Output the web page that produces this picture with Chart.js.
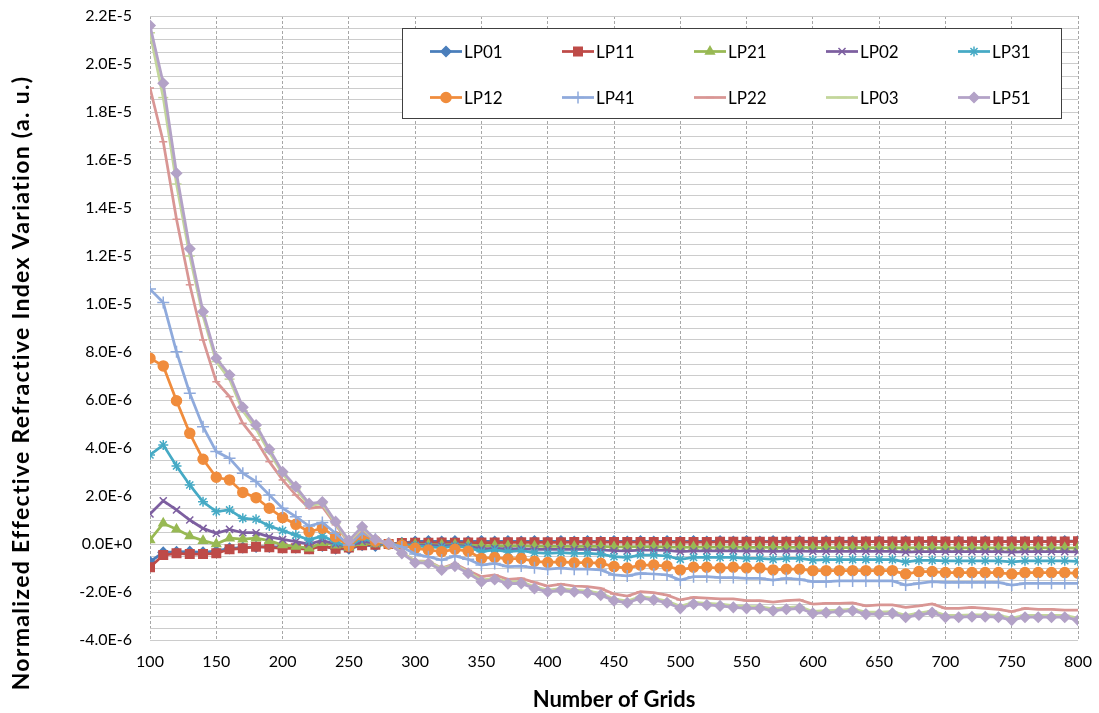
<!DOCTYPE html>
<html>
<head>
<meta charset="utf-8">
<title>Normalized Effective Refractive Index Variation</title>
<script src="https://cdn.jsdelivr.net/npm/chart.js@4.4.0/dist/chart.umd.min.js"></script>
<style>
  html, body { margin: 0; padding: 0; background: #fff; }
  #wrap { width: 1099px; height: 713px; }
</style>
</head>
<body>
<div id="wrap"><canvas id="chart" width="1099" height="713"></canvas></div>
<script>
// grid counts on the x axis
const grids = [100, 110, 120, 130, 140, 150, 160, 170, 180, 190,
  200, 210, 220, 230, 240, 250, 260, 270, 280, 290,
  300, 310, 320, 330, 340, 350, 360, 370, 380, 390,
  400, 410, 420, 430, 440, 450, 460, 470, 480, 490,
  500, 510, 520, 530, 540, 550, 560, 570, 580, 590,
  600, 610, 620, 630, 640, 650, 660, 670, 680, 690,
  700, 710, 720, 730, 740, 750, 760, 770, 780, 790, 800];

// all values below are in units of 1e-6
const lp01 = [-0.74, -0.35, -0.33, -0.32, -0.35, -0.30, -0.18, -0.15, -0.12, -0.12,
  -0.12, -0.15, -0.18, -0.08, -0.20, -0.20, -0.05, -0.08, 0.00, 0.05,
  0.10, 0.12, 0.10, 0.12, 0.10, 0.12, 0.10, 0.12, 0.10, 0.12,
  0.10, 0.12, 0.10, 0.12, 0.10, 0.12, 0.10, 0.12, 0.10, 0.12,
  0.10, 0.12, 0.10, 0.12, 0.10, 0.12, 0.10, 0.12, 0.10, 0.12,
  0.10, 0.12, 0.10, 0.12, 0.10, 0.12, 0.10, 0.12, 0.10, 0.12,
  0.10, 0.12, 0.10, 0.12, 0.10, 0.12, 0.10, 0.12, 0.10, 0.12, 0.12];
const lp11 = [-0.97, -0.46, -0.39, -0.42, -0.42, -0.39, -0.22, -0.18, -0.11, -0.14,
  -0.18, -0.18, -0.22, -0.08, -0.20, -0.15, -0.05, -0.03, 0.00, 0.04,
  0.05, 0.05, 0.06, 0.05, 0.06, 0.06, 0.06, 0.07, 0.07, 0.07,
  0.07, 0.07, 0.08, 0.08, 0.08, 0.08, 0.08, 0.08, 0.08, 0.08,
  0.08, 0.08, 0.08, 0.09, 0.09, 0.09, 0.09, 0.09, 0.09, 0.09,
  0.09, 0.09, 0.09, 0.09, 0.10, 0.10, 0.10, 0.10, 0.10, 0.12,
  0.10, 0.10, 0.10, 0.10, 0.10, 0.10, 0.10, 0.10, 0.10, 0.10, 0.11];
const lp21 = [0.17, 0.86, 0.61, 0.33, 0.14, 0.00, 0.24, 0.20, 0.24, 0.14,
  -0.04, -0.10, -0.18, 0.05, -0.05, -0.15, 0.05, 0.00, 0.00, 0.00,
  -0.02, -0.03, -0.04, -0.03, -0.04, -0.08, -0.07, -0.08, -0.08, -0.09,
  -0.10, -0.10, -0.10, -0.10, -0.10, -0.12, -0.12, -0.11, -0.11, -0.12,
  -0.14, -0.13, -0.13, -0.13, -0.13, -0.14, -0.14, -0.14, -0.14, -0.14,
  -0.15, -0.15, -0.15, -0.15, -0.15, -0.15, -0.15, -0.16, -0.15, -0.15,
  -0.16, -0.16, -0.16, -0.16, -0.16, -0.17, -0.16, -0.16, -0.16, -0.16, -0.17];
const lp02 = [1.25, 1.80, 1.42, 1.00, 0.65, 0.45, 0.61, 0.47, 0.47, 0.30,
  0.19, 0.10, 0.00, 0.15, 0.00, -0.12, 0.12, 0.03, 0.00, 0.00,
  -0.04, -0.06, -0.08, -0.06, -0.09, -0.20, -0.18, -0.20, -0.20, -0.22,
  -0.22, -0.22, -0.22, -0.22, -0.24, -0.28, -0.29, -0.26, -0.26, -0.27,
  -0.32, -0.29, -0.29, -0.29, -0.29, -0.30, -0.30, -0.31, -0.30, -0.30,
  -0.31, -0.31, -0.31, -0.31, -0.31, -0.31, -0.31, -0.34, -0.32, -0.32,
  -0.32, -0.32, -0.32, -0.32, -0.32, -0.34, -0.32, -0.32, -0.32, -0.32, -0.33];
const lp31 = [3.71, 4.13, 3.25, 2.46, 1.76, 1.35, 1.42, 1.07, 1.03, 0.75,
  0.56, 0.37, 0.17, 0.33, 0.08, -0.12, 0.25, 0.06, 0.00, -0.03,
  -0.08, -0.12, -0.15, -0.10, -0.14, -0.32, -0.25, -0.32, -0.28, -0.36,
  -0.39, -0.36, -0.39, -0.39, -0.42, -0.53, -0.56, -0.46, -0.46, -0.50,
  -0.64, -0.56, -0.56, -0.56, -0.56, -0.60, -0.60, -0.64, -0.60, -0.60,
  -0.67, -0.65, -0.65, -0.65, -0.65, -0.65, -0.65, -0.74, -0.68, -0.68,
  -0.70, -0.70, -0.70, -0.70, -0.70, -0.74, -0.70, -0.70, -0.70, -0.70, -0.72];
const lp12 = [7.74, 7.42, 5.97, 4.61, 3.53, 2.78, 2.67, 2.15, 1.93, 1.49,
  1.10, 0.82, 0.51, 0.66, 0.30, -0.08, 0.37, 0.12, 0.00, -0.06,
  -0.18, -0.25, -0.32, -0.22, -0.30, -0.60, -0.56, -0.62, -0.60, -0.72,
  -0.77, -0.74, -0.78, -0.78, -0.80, -0.94, -1.00, -0.88, -0.88, -0.92,
  -1.08, -0.97, -0.97, -1.00, -0.97, -1.00, -1.00, -1.08, -1.05, -1.05,
  -1.11, -1.11, -1.11, -1.11, -1.11, -1.11, -1.11, -1.25, -1.15, -1.15,
  -1.19, -1.19, -1.19, -1.19, -1.19, -1.25, -1.19, -1.19, -1.19, -1.19, -1.22];
const lp41 = [10.62, 10.06, 8.01, 6.28, 4.89, 3.85, 3.57, 2.95, 2.60, 2.04,
  1.49, 1.14, 0.75, 0.90, 0.45, -0.04, 0.47, 0.20, 0.03, -0.12,
  -0.42, -0.53, -0.67, -0.50, -0.64, -0.88, -0.81, -0.94, -0.92, -0.99,
  -1.05, -1.01, -1.05, -1.05, -1.08, -1.29, -1.33, -1.22, -1.25, -1.29,
  -1.50, -1.36, -1.36, -1.40, -1.40, -1.43, -1.43, -1.50, -1.43, -1.47,
  -1.57, -1.57, -1.54, -1.54, -1.54, -1.54, -1.54, -1.71, -1.64, -1.57,
  -1.60, -1.60, -1.60, -1.60, -1.60, -1.71, -1.64, -1.64, -1.64, -1.64, -1.64];
const lp22 = [19.00, 16.76, 13.53, 10.80, 8.50, 6.76, 6.14, 5.03, 4.33, 3.43,
  2.67, 2.04, 1.49, 1.55, 0.80, 0.05, 0.60, 0.15, 0.00, -0.35,
  -0.70, -0.72, -1.00, -0.82, -1.10, -1.36, -1.29, -1.47, -1.43, -1.60,
  -1.75, -1.67, -1.75, -1.78, -1.85, -2.08, -2.17, -1.99, -2.03, -2.13,
  -2.33, -2.22, -2.26, -2.29, -2.29, -2.36, -2.36, -2.42, -2.36, -2.33,
  -2.50, -2.47, -2.47, -2.45, -2.58, -2.54, -2.54, -2.64, -2.58, -2.50,
  -2.68, -2.68, -2.64, -2.68, -2.72, -2.82, -2.68, -2.72, -2.72, -2.75, -2.75];
const lp03 = [21.30, 18.60, 15.00, 12.00, 9.50, 7.60, 6.87, 5.55, 4.80, 3.82,
  2.92, 2.30, 1.60, 1.68, 0.86, 0.10, 0.66, 0.17, 0.02, -0.35,
  -0.72, -0.74, -1.02, -0.86, -1.16, -1.50, -1.42, -1.58, -1.57, -1.78,
  -1.92, -1.86, -1.92, -1.96, -2.06, -2.29, -2.38, -2.19, -2.26, -2.38,
  -2.60, -2.43, -2.47, -2.51, -2.57, -2.61, -2.61, -2.70, -2.65, -2.61,
  -2.81, -2.78, -2.75, -2.71, -2.84, -2.84, -2.82, -2.97, -2.88, -2.79,
  -2.97, -2.97, -2.95, -2.95, -2.97, -3.09, -2.97, -2.97, -2.97, -2.97, -3.09];
const lp51 = [21.60, 19.20, 15.45, 12.30, 9.68, 7.74, 7.04, 5.70, 4.96, 3.95,
  3.01, 2.39, 1.68, 1.75, 0.93, 0.15, 0.72, 0.20, 0.03, -0.39,
  -0.78, -0.80, -1.08, -0.92, -1.22, -1.57, -1.48, -1.65, -1.64, -1.85,
  -1.99, -1.92, -1.99, -2.03, -2.13, -2.36, -2.45, -2.26, -2.33, -2.45,
  -2.68, -2.50, -2.54, -2.58, -2.64, -2.68, -2.68, -2.78, -2.72, -2.68,
  -2.89, -2.86, -2.82, -2.78, -2.92, -2.92, -2.89, -3.05, -2.96, -2.86,
  -3.05, -3.05, -3.03, -3.03, -3.05, -3.17, -3.05, -3.05, -3.05, -3.05, -3.17];

const seriesNames = ['LP01', 'LP11', 'LP21', 'LP02', 'LP31', 'LP12', 'LP41', 'LP22', 'LP03', 'LP51'];
const seriesValues = [lp01, lp11, lp21, lp02, lp31, lp12, lp41, lp22, lp03, lp51];

// line colour, marker shape and marker size for each mode
const styles = [
  { color: '#4A7EBB', marker: 'rectRot', size: 5 },
  { color: '#BE4B48', marker: 'rect', size: 6 },
  { color: '#98B954', marker: 'triangle', size: 5 },
  { color: '#7D5FA0', marker: 'crossRot', size: 5 },
  { color: '#46AAC5', marker: 'star', size: 5 },
  { color: '#F08C3C', marker: 'circle', size: 5 },
  { color: '#8FAADC', marker: 'cross', size: 6 },
  { color: '#D99694', marker: 'line', size: 4 },
  { color: '#C3D69B', marker: 'line', size: 5 },
  { color: '#B3A2C7', marker: 'rectRot', size: 5 }
];

const FONT = 'Lato, "Liberation Sans", sans-serif';
const expLabel = v => (v * 1e-6).toExponential(1).toUpperCase();

const datasets = seriesNames.map((name, i) => ({
  label: name,
  data: grids.map((g, k) => ({ x: g, y: seriesValues[i][k] })),
  borderColor: styles[i].color,
  backgroundColor: styles[i].color,
  borderWidth: 2.75,
  pointStyle: styles[i].marker,
  pointRadius: styles[i].size,
  pointBorderWidth: 1.5,
  pointBorderColor: styles[i].color,
  pointBackgroundColor: styles[i].color,
  tension: 0,
  order: seriesNames.length - 1 - i   // later modes are painted on top
}));

// rotated y title, centred on the whole canvas height, about 615px long
const yTitle = {
  id: 'yTitle',
  afterDraw(chart) {
    const ctx = chart.ctx;
    const text = 'Normalized Effective Refractive Index Variation (a. u.)';
    const target = 615;
    ctx.save();
    ctx.font = 'bold 23px ' + FONT;
    const extra = (target - ctx.measureText(text).width) / text.length;
    if (extra > 0 && 'letterSpacing' in ctx) ctx.letterSpacing = extra.toFixed(2) + 'px';
    ctx.translate(22, 383);
    ctx.rotate(-Math.PI / 2);
    ctx.fillStyle = '#000';
    ctx.textAlign = 'center';
    ctx.textBaseline = 'middle';
    ctx.fillText(text, 0, 0);
    ctx.restore();
  }
};

// boxed legend, two rows of five
const boxLegend = {
  id: 'boxLegend',
  afterDraw(chart) {
    const ctx = chart.ctx;
    ctx.save();
    ctx.fillStyle = '#fff';
    ctx.fillRect(402, 28, 660, 91);
    ctx.strokeStyle = '#404040';
    ctx.lineWidth = 1;
    ctx.strokeRect(402.5, 28.5, 659, 90);
    chart.data.datasets.forEach((ds, i) => {
      const x0 = 430 + 132 * (i % 5);
      const y = 51.5 + 46 * Math.floor(i / 5);
      ctx.strokeStyle = ds.borderColor;
      ctx.lineWidth = ds.borderWidth;
      ctx.beginPath();
      ctx.moveTo(x0, y);
      ctx.lineTo(x0 + 32, y);
      ctx.stroke();
      ctx.fillStyle = ds.pointBackgroundColor;
      ctx.strokeStyle = ds.pointBorderColor;
      ctx.lineWidth = ds.pointBorderWidth;
      Chart.helpers.drawPoint(ctx, {
        pointStyle: ds.pointStyle, radius: ds.pointRadius, rotation: 0, borderWidth: ds.pointBorderWidth
      }, x0 + 16, y);
      ctx.fillStyle = '#000';
      ctx.font = '17px ' + FONT;
      ctx.textAlign = 'left';
      ctx.textBaseline = 'middle';
      ctx.fillText(ds.label, x0 + 34, y + 1);
    });
    ctx.restore();
  }
};

new Chart(document.getElementById('chart'), {
  type: 'line',
  data: { datasets },
  options: {
    responsive: false,
    animation: false,
    devicePixelRatio: 1,
    layout: { padding: { left: 0, right: 21, top: 16, bottom: 0 } },
    plugins: { legend: { display: false }, tooltip: { enabled: false } },
    scales: {
      x: {
        type: 'linear',
        min: 100, max: 800,
        afterFit(scale) {
          scale.height = 73;
          scale.paddingLeft = 0;
          scale.paddingRight = 0;
        },
        ticks: { stepSize: 50, padding: 12, color: '#000', font: { family: FONT, size: 16 } },
        grid: { color: '#A6A6A6', lineWidth: 1, drawTicks: false },
        border: { display: false, dash: [3, 2] },
        title: {
          display: true, text: 'Number of Grids', color: '#000',
          font: { family: FONT, size: 22, weight: 'bold' }, padding: { top: 2, bottom: 0 }
        }
      },
      y: {
        min: -4, max: 22,
        afterFit(scale) {
          scale.width = 150;
          scale.paddingTop = 0;
          scale.paddingBottom = 0;
        },
        ticks: {
          stepSize: 0.5, autoSkip: false, padding: 18, color: '#000',
          font: { family: FONT, size: 16 },
          callback: (v, i) => (i % 4 === 0 ? expLabel(v) : '')
        },
        grid: { color: '#CCCCCC', lineWidth: 1, drawTicks: false },
        border: { display: false }
      }
    }
  },
  plugins: [yTitle, boxLegend]
});
</script>
</body>
</html>
